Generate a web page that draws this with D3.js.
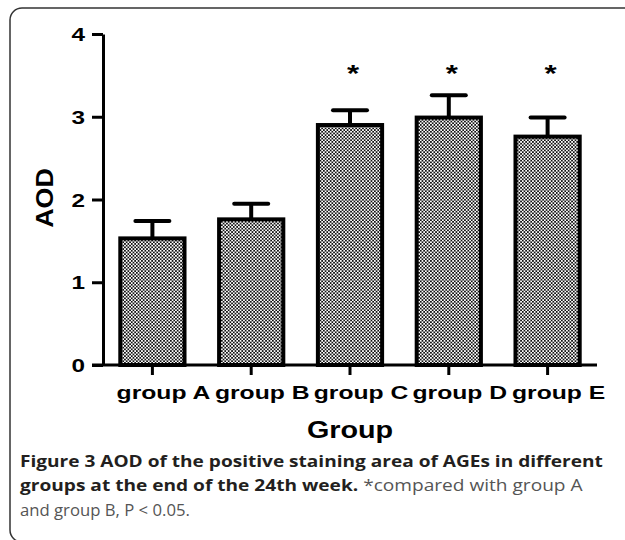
<!DOCTYPE html>
<html>
<head>
<meta charset="utf-8">
<script src="https://cdn.jsdelivr.net/npm/d3@7"></script>
<style>
  html, body { margin: 0; padding: 0; background: #fff; }
  svg { display: block; }
</style>
</head>
<body>
<svg id="chart" width="625" height="540"></svg>
<script>
// AOD (mean ± SD) per group
const groups = ["group A", "group B", "group C", "group D", "group E"];
const meanAOD = [1.53, 1.76, 2.90, 2.99, 2.76];
const sdAOD = [0.21, 0.19, 0.18, 0.27, 0.23];
const significant = [false, false, true, true, true];
const yTicks = [0, 1, 2, 3, 4];

const svg = d3.select("#chart");
const stretch = 1.3; // horizontal widening of the chart lettering

// outer panel frame with rounded corners
svg.append("rect")
  .attr("x", 10).attr("y", 8)
  .attr("width", 700).attr("height", 534)
  .attr("rx", 12)
  .attr("fill", "none")
  .attr("stroke", "#333")
  .attr("stroke-width", 1.5);

// fine checkered fill of the bars
const defs = svg.append("defs");
const pat = defs.append("pattern")
  .attr("id", "dots")
  .attr("patternUnits", "userSpaceOnUse")
  .attr("width", 3.4).attr("height", 3.4);
pat.append("rect").attr("width", 3.4).attr("height", 3.4).attr("fill", "#fff");
pat.append("rect").attr("x", 0).attr("y", 0).attr("width", 1.7).attr("height", 1.7).attr("fill", "#111");
pat.append("rect").attr("x", 1.7).attr("y", 1.7).attr("width", 1.7).attr("height", 1.7).attr("fill", "#111");

const plotLeft = 103, plotRight = 597, plotTop = 34, plotBottom = 365;

const x = d3.scaleBand()
  .domain(groups)
  .range([plotLeft, plotRight])
  .paddingInner(0.35)
  .paddingOuter(0.175);

const y = d3.scaleLinear()
  .domain([0, 4])
  .range([plotBottom, plotTop]);

const plot = svg.append("g");

// bars
plot.selectAll("rect.bar")
  .data(groups)
  .join("rect")
  .attr("class", "bar")
  .attr("x", d => x(d))
  .attr("width", x.bandwidth())
  .attr("y", (d, i) => y(meanAOD[i]))
  .attr("height", (d, i) => y(0) - y(meanAOD[i]))
  .attr("fill", "url(#dots)")
  .attr("stroke", "#000")
  .attr("stroke-width", 4);

// upper error bars
const capHalf = 17;
plot.selectAll("line.err")
  .data(groups)
  .join("line")
  .attr("class", "err")
  .attr("x1", d => x(d) + x.bandwidth() / 2)
  .attr("x2", d => x(d) + x.bandwidth() / 2)
  .attr("y1", (d, i) => y(meanAOD[i]))
  .attr("y2", (d, i) => y(meanAOD[i] + sdAOD[i]))
  .attr("stroke", "#000")
  .attr("stroke-width", 4);

plot.selectAll("line.cap")
  .data(groups)
  .join("line")
  .attr("class", "cap")
  .attr("x1", d => x(d) + x.bandwidth() / 2 - capHalf)
  .attr("x2", d => x(d) + x.bandwidth() / 2 + capHalf)
  .attr("y1", (d, i) => y(meanAOD[i] + sdAOD[i]))
  .attr("y2", (d, i) => y(meanAOD[i] + sdAOD[i]))
  .attr("stroke", "#000")
  .attr("stroke-width", 4)
  .attr("stroke-linecap", "round");

// significance markers
const starY = 82;
plot.selectAll("text.star")
  .data(groups.filter((d, i) => significant[i]))
  .join("text")
  .attr("class", "star")
  .attr("transform", d => `translate(${x(d) + x.bandwidth() / 2 + 3},${starY}) scale(${stretch},1)`)
  .attr("text-anchor", "middle")
  .attr("font-family", "Liberation Sans, Arial, sans-serif")
  .attr("font-weight", "bold")
  .attr("font-size", 24)
  .text("*");

// y axis
const yAxis = svg.append("g")
  .attr("transform", `translate(${plotLeft},0)`)
  .call(d3.axisLeft(y).tickValues(yTicks).tickSize(11).tickSizeOuter(0).tickFormat(d3.format("d")));
yAxis.select(".domain").attr("stroke", "#000").attr("stroke-width", 3);
yAxis.selectAll(".tick line").attr("stroke", "#000").attr("stroke-width", 3);
yAxis.selectAll(".tick text")
  .attr("x", null)
  .attr("dy", null)
  .attr("transform", `translate(-18,6.5) scale(1.35,1)`)
  .attr("fill", "#000")
  .attr("font-family", "Liberation Sans, Arial, sans-serif")
  .attr("font-weight", "bold")
  .attr("font-size", 18);

// x axis (baseline runs from the zero tick to the right end)
svg.append("line")
  .attr("x1", plotLeft - 11).attr("x2", plotRight)
  .attr("y1", plotBottom).attr("y2", plotBottom)
  .attr("stroke", "#000").attr("stroke-width", 3);

const xAxis = svg.append("g")
  .attr("transform", `translate(0,${plotBottom})`)
  .call(d3.axisBottom(x).tickSize(10).tickSizeOuter(0));
xAxis.select(".domain").remove();
xAxis.selectAll(".tick line").attr("stroke", "#000").attr("stroke-width", 3);
xAxis.selectAll(".tick text")
  .attr("y", null)
  .attr("dy", null)
  .attr("transform", `translate(11,34) scale(${stretch},1)`)
  .attr("fill", "#000")
  .attr("font-family", "Liberation Sans, Arial, sans-serif")
  .attr("font-weight", "bold")
  .attr("font-size", 19);

// axis titles
svg.append("text")
  .attr("transform", `translate(53,198) rotate(-90) scale(1.12,1)`)
  .attr("text-anchor", "middle")
  .attr("font-family", "Liberation Sans, Arial, sans-serif")
  .attr("font-weight", "bold")
  .attr("font-size", 24)
  .text("AOD");

svg.append("text")
  .attr("transform", `translate(${(plotLeft + plotRight) / 2},438) scale(1.25,1)`)
  .attr("text-anchor", "middle")
  .attr("font-family", "Liberation Sans, Arial, sans-serif")
  .attr("font-weight", "bold")
  .attr("font-size", 23)
  .text("Group");

// figure caption
const captionLines = [
  { baseline: 467, width: 583, parts: [["Figure 3 AOD of the positive staining area of AGEs in different", true]] },
  { baseline: 491, width: 563, parts: [["groups at the end of the 24th week.", true], [" *compared with group A", false]] },
  { baseline: 516, width: 170, parts: [["and group B, P < 0.05.", false]] }
];
captionLines.forEach(line => {
  const t = svg.append("text")
    .attr("x", 0).attr("y", 0)
    .attr("font-family", "Open Sans, Noto Sans, sans-serif")
    .attr("font-size", 16)
    .attr("xml:space", "preserve");
  line.parts.forEach(([s, bold]) => {
    t.append("tspan")
      .attr("font-weight", bold ? "bold" : "normal")
      .attr("fill", bold ? "#231f20" : "#555")
      .text(s);
  });
  const w = t.node().getComputedTextLength();
  t.attr("transform", `translate(20,${line.baseline}) scale(${line.width / w},1)`);
});
</script>
</body>
</html>
